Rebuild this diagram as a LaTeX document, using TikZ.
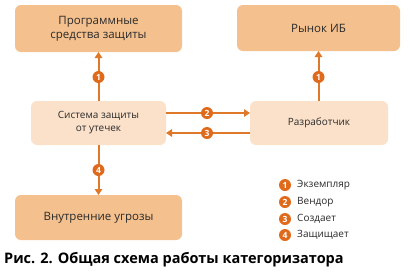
\documentclass[tikz,border=0pt]{standalone}
\usepackage{fontspec}
\setmainfont{Open Sans}
\usetikzlibrary{arrows.meta}
\definecolor{boxdark}{HTML}{F4C08E}
\definecolor{boxlight}{HTML}{FBE1CA}
\definecolor{arr}{HTML}{E0782A}
\definecolor{badge}{HTML}{DF6A1C}
\definecolor{txt}{HTML}{2A2A2A}
\tikzset{
  boxd/.style={fill=boxdark, rounded corners=6pt},
  boxl/.style={fill=boxlight, rounded corners=6pt},
  conn/.style={draw=arr, line width=2pt, -{Triangle[length=6pt,width=7.5pt]}},
  badgec/.style={circle, fill=badge, text=white, inner sep=0pt, minimum size=12pt, font=\fontsize{8.5}{8.5}\selectfont\bfseries},
  legtext/.style={anchor=west, text=txt, font=\fontsize{10}{11}\selectfont, inner sep=0pt}
}
\begin{document}
\begin{tikzpicture}[x=1pt,y=-1pt]
\useasboundingbox (0,0) rectangle (410,271);
\path[boxd] (15,5) rectangle (182,52);
\node[text=txt, align=center, font=\fontsize{11.5}{14}\selectfont] (psz) at (98.5,28.5) {Программные\\средства защиты};
\path[boxd] (237,5) rectangle (400,51);
\node[text=txt, font=\fontsize{11.5}{14}\selectfont] (rib) at (318.5,28) {Рынок ИБ};
\path[boxl] (31,101) rectangle (166,145);
\node[text=txt, align=center, font=\fontsize{10}{13}\selectfont] (szu) at (98.5,123) {Система защиты\\от утечек};
\path[boxl] (250,101) rectangle (388,145);
\node[text=txt, font=\fontsize{10}{13}\selectfont] (dev) at (319,123) {Разработчик};
\path[boxd] (15,195) rectangle (182,240);
\node[text=txt, font=\fontsize{11.5}{14}\selectfont] (vu) at (98.5,217.5) {Внутренние угрозы};
\coordinate (pszb) at (98.5,52);
\coordinate (szut) at (98.5,101);
\coordinate (szub) at (98.5,145);
\coordinate (vut) at (98.5,195);
\coordinate (ribb) at (318.5,51);
\coordinate (devt) at (318.5,101);
\coordinate (szur1) at (166,113);
\coordinate (devl1) at (250,113);
\coordinate (szur2) at (166,133);
\coordinate (devl2) at (250,133);
\draw[conn] (szut) -- (pszb);
\draw[conn] (devt) -- (ribb);
\draw[conn] (szur1) -- (devl1);
\draw[conn] (devl2) -- (szur2);
\draw[conn] (szub) -- (vut);
\node[badgec] (b1a) at (98.5,77) {1};
\node[badgec] (b1b) at (318.5,77) {1};
\node[badgec] (b2) at (207,113) {2};
\node[badgec] (b3) at (207,133) {3};
\node[badgec] (b4) at (98.5,170) {4};
\node[badgec] (l1) at (285,185) {1};
\node[badgec] (l2) at (285,202) {2};
\node[badgec] (l3) at (285,219) {3};
\node[badgec] (l4) at (285,235) {4};
\node[legtext] (t1) at (297,185) {Экземпляр};
\node[legtext] (t2) at (297,202) {Вендор};
\node[legtext] (t3) at (297,219) {Создает};
\node[legtext] (t4) at (297,235) {Защищает};
\node[anchor=west, inner sep=0pt, text=black, font=\fontsize{14.5}{16}\selectfont\bfseries] (cap) at (4,260) {Рис. 2. Общая схема работы категоризатора};
\end{tikzpicture}
\end{document}
